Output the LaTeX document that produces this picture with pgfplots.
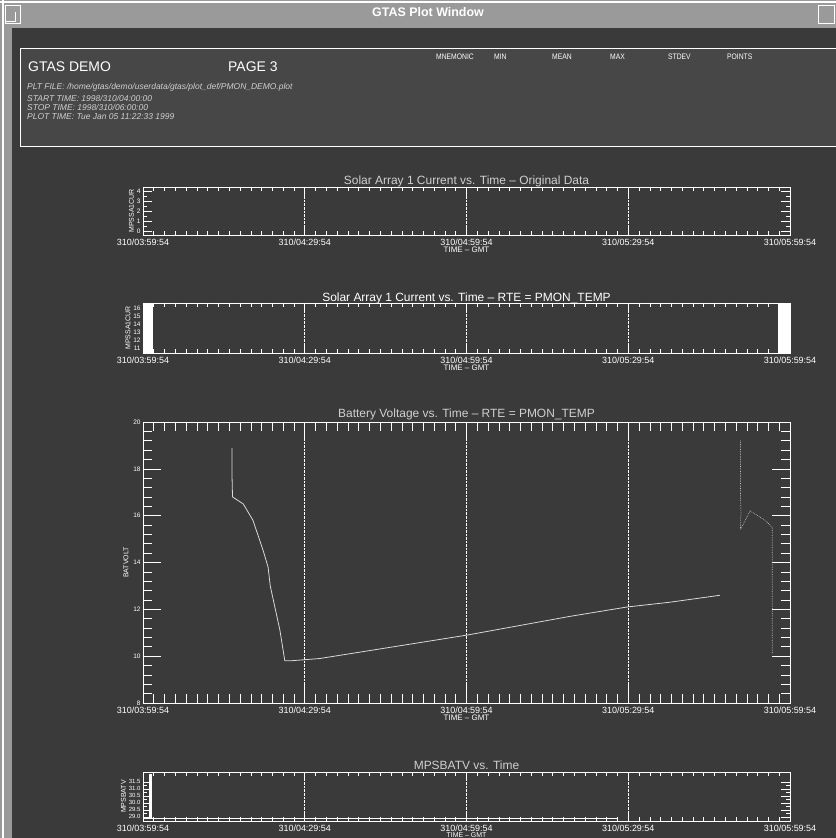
\documentclass[border=0pt]{standalone}
\usepackage{pgfplots}
\pgfplotsset{compat=1.18}
\usepackage{fontspec}
\setmainfont{Liberation Sans}

\definecolor{winbg}{HTML}{3A3A3A}
\definecolor{barbg}{HTML}{9A9A9A}
\definecolor{hdrbg}{HTML}{474747}
\definecolor{dimtxt}{HTML}{D0D0D0}

% battery voltage trace (minutes after 310/03:59:54)
\pgfplotstableread{
t v
16.5 18.9
16.5 17.8
16.6 16.8
18.6 16.5
20.4 15.8
22.3 14.5
23.2 13.8
23.6 13.0
25.4 11.1
26.3 9.8
27.3 9.8
32.8 9.9
60.1 10.9
79.2 11.7
89.8 12.1
97.6 12.3
107.0 12.6
}\battrace
\pgfplotstableread{
t v
110.8 19.2
110.8 18.0
110.8 16.9
110.9 16.1
110.8 15.4
112.6 16.2
115.4 15.8
116.7 15.5
116.7 13.0
116.7 10.1
}\batright

\pgfplotsset{
  gtas/.style={
    scale only axis, width=647bp, anchor=south west,
    axis line style={white, line width=0.8pt},
    every tick/.style={white, line width=0.6pt},
    tick align=inside, tick pos=both,
    xmin=0, xmax=120, xtick={0,30,60,90,120},
    xticklabels={310/03:59:54,310/04:29:54,310/04:59:54,310/05:29:54,310/05:59:54},
    minor x tick num=14,
    xmajorgrids, major grid style={white, densely dotted, line width=0.6pt},
    x tick label style={white, font=\fontsize{9}{9}\selectfont, anchor=north, inner sep=0pt, yshift=-4bp},
    y tick label style={white, font=\fontsize{6.5}{6.5}\selectfont, xshift=1bp},
    /pgf/number format/assume math mode=true,
    xlabel={TIME -- GMT},
    xlabel style={white, font=\fontsize{8}{8}\selectfont, at={(axis description cs:0.5,0)}, anchor=north, inner sep=0pt, yshift=-12bp},
    ylabel style={white, font=\fontsize{7}{7}\selectfont, yshift=-4bp},
    title style={dimtxt, font=\fontsize{12}{12}\selectfont, at={(axis description cs:0.5,1)}, anchor=base, inner sep=0pt, yshift=-3bp},
    clip=false,
  },
}

\begin{document}
\begin{tikzpicture}[x=1bp,y=1bp]
\path[use as bounding box] (0,0) rectangle (836,838);
\fill[winbg] (0,0) rectangle (836,838);
% title bar and frame
\fill[barbg] (0,810) rectangle (836,838);
\fill[barbg] (0,0) rectangle (12,838);
\draw[white, line width=1.2pt] (0,836) -- (836,836);
\draw[white, line width=1.2pt] (3,0) -- (3,838);
\draw[white, line width=0.8pt] (5,815) rectangle (20,833);
\draw[white, line width=0.8pt] (6,817) -- (15,817) -- (15,826);
\draw[white, line width=0.8pt] (818,815) rectangle (834,833);
\node[white, font=\bfseries\fontsize{12.5}{13}\selectfont] at (428,826) {GTAS Plot Window};
% header panel
\fill[hdrbg] (20,691) rectangle (836,789);
\draw[white, line width=1pt] (20,691) rectangle (840,789);
\node[white, anchor=west, font=\fontsize{14}{14}\selectfont, inner sep=0] at (28,771) {GTAS DEMO};
\node[white, anchor=west, font=\fontsize{14}{14}\selectfont, inner sep=0] at (228,771) {PAGE 3};
\begin{scope}[font=\itshape\fontsize{8.5}{9}\selectfont, dimtxt]
\node[anchor=west, inner sep=0] at (27,751) {PLT FILE: /home/gtas/demo/userdata/gtas/plot\_def/PMON\_DEMO.plot};
\node[anchor=west, inner sep=0] at (27,740) {START TIME: 1998/310/04:00:00};
\node[anchor=west, inner sep=0] at (27,731) {STOP TIME: 1998/310/06:00:00};
\node[anchor=west, inner sep=0] at (27,721) {PLOT TIME: Tue Jan 05 11:22:33 1999};
\end{scope}
\begin{scope}[font=\fontsize{8}{8}\selectfont, white]
\node[anchor=west, inner sep=0, xscale=0.85] at (436,781) {MNEMONIC};
\node[anchor=west, inner sep=0, xscale=0.85] at (494,781) {MIN};
\node[anchor=west, inner sep=0, xscale=0.85] at (552,781) {MEAN};
\node[anchor=west, inner sep=0, xscale=0.85] at (610,781) {MAX};
\node[anchor=west, inner sep=0, xscale=0.85] at (668,781) {STDEV};
\node[anchor=west, inner sep=0, xscale=0.85] at (727,781) {POINTS};
\end{scope}

% plot 1
\begin{axis}[gtas, at={(143bp,603bp)}, height=48bp,
  ymin=-0.4, ymax=4.4, ytick={0,1,2,3,4}, minor y tick num=1,
  major tick length=9bp, minor tick length=4bp,
  title={Solar Array 1 Current vs. Time -- Original Data},
  ylabel={MPSSA1CUR}]
\end{axis}

% plot 2
\begin{axis}[gtas, at={(143bp,485bp)}, height=50bp,
  ymin=10.4, ymax=16.7, ytick={11,...,16}, minor y tick num=1,
  major tick length=9bp, minor tick length=4bp,
  title style={white, yshift=-1.5bp},
  title={Solar Array 1 Current vs. Time -- RTE = PMON\_TEMP},
  ylabel={MPSSA1CUR}]
\addplot[white, fill=white, draw=none] coordinates {(0,10.4) (1.8,10.4) (1.8,16.7) (0,16.7)} -- cycle;
\addplot[white, fill=white, draw=none] coordinates {(117.8,10.4) (120,10.4) (120,16.7) (117.8,16.7)} -- cycle;
\end{axis}

% plot 3
\begin{axis}[gtas, at={(143bp,135bp)}, height=281bp,
  ymin=8, ymax=20, ytick={8,10,...,20}, minor y tick num=4,
  major tick length=18bp, minor tick length=9bp,
  title style={yshift=1.5bp},
  title={Battery Voltage vs. Time -- RTE = PMON\_TEMP},
  ylabel={BATVOLT}, ylabel style={yshift=2bp}]
\addplot[white!85!black, line width=0.8pt] table[x=t, y=v] {\battrace};
\addplot[white!75!black, line width=0.7pt, densely dotted] table[x=t, y=v] {\batright};
\end{axis}

% plot 4
\begin{axis}[gtas, at={(143bp,17bp)}, height=49bp,
  ymin=28.7, ymax=32.2, ytick={29,29.5,...,31.5}, minor y tick num=1,
  y tick label style={font=\fontsize{6}{6}\selectfont,
    /pgf/number format/fixed, /pgf/number format/fixed zerofill, /pgf/number format/precision=1},
  major tick length=9bp, minor tick length=4bp,
  title={MPSBATV vs. Time},
  ylabel={MPSBATV}, xlabel style={font=\fontsize{7}{7}\selectfont, yshift=1bp}]
\addplot[white, line width=1.2pt] coordinates {(0,28.9) (1.3,28.9) (1.3,32.0) (1.5,32.0) (1.5,28.9) (88,28.9)};
\end{axis}
\end{tikzpicture}
\end{document}
